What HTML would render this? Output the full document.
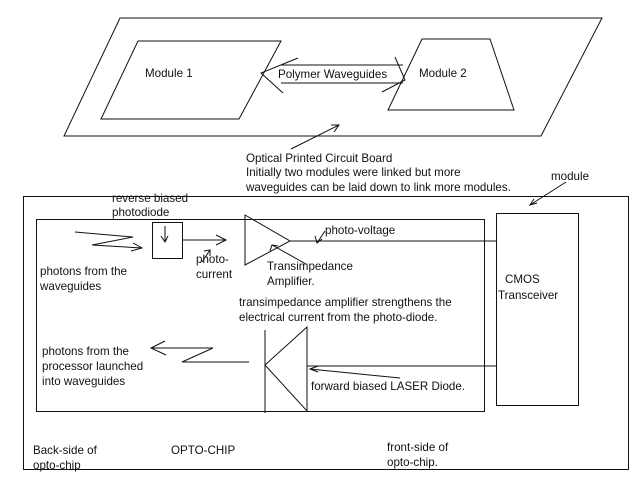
<!DOCTYPE html>
<html><head><meta charset="utf-8"><style>
html,body{margin:0;padding:0;background:#fff;}
svg{display:block;}
text{font-family:"Liberation Sans",sans-serif;font-size:11.6px;fill:#111;}
</style></head><body>
<svg width="641" height="484" viewBox="0 0 641 484" xmlns="http://www.w3.org/2000/svg">
<g fill="none" stroke="#111" stroke-width="1">
<!-- board -->
<polygon points="120,18 602,18 541,136 64,136"/>
<polygon points="138,41 281,41 239,119 101,119"/>
<polygon points="422,39 490,39 514,110 388,110"/>
<line x1="281" y1="65" x2="403" y2="65"/>
<line x1="281" y1="83" x2="403" y2="83"/>
<polyline points="298,58 261,73 283,93"/>
<polyline points="395,57 405,80 382,92"/>
<line x1="291" y1="149" x2="339" y2="125"/>
<polyline points="331,125 339,125 334,132"/>
<!-- module arrow -->
<line x1="566" y1="182" x2="530" y2="205"/>
<polyline points="537,203 530,205 534,199"/>
<!-- rects -->
<rect x="23.5" y="196.5" width="605" height="273"/>
<rect x="36.5" y="219.5" width="448" height="192"/>
<rect x="496.5" y="213.5" width="82" height="192"/>
<!-- input zigzag -->
<polyline points="75,232 133,237 92,245 142,248"/>
<polyline points="133,243 142,248 131,251"/>
<rect x="152.5" y="222.5" width="30" height="36"/>
<line x1="165" y1="226" x2="165" y2="242"/>
<polyline points="161,236 165,242 168,236"/>
<line x1="183" y1="240" x2="226" y2="240"/>
<polyline points="216,235 226,240 216,245"/>
<line x1="202" y1="262" x2="210" y2="250"/>
<polyline points="204,251 210,250 210,256"/>
<!-- amplifier -->
<polygon points="245,215 290,241 245,265"/>
<line x1="290" y1="241" x2="496" y2="241"/>
<line x1="325" y1="231" x2="317" y2="243"/>
<polyline points="315,236 317,243 322,239"/>
<line x1="306" y1="264" x2="272" y2="245"/>
<polyline points="270,251 272,245 278,246"/>
<!-- laser -->
<line x1="265" y1="330" x2="265" y2="413"/>
<polygon points="307,327 265,365 307,411"/>
<line x1="307" y1="366" x2="496" y2="366"/>
<line x1="400" y1="378" x2="310" y2="369"/>
<polyline points="318,366 310,369 318,372"/>
<!-- output zigzag -->
<polyline points="249,362 182,362 213,348 151,348"/>
<polyline points="165,341 151,348 166,355"/>
</g>
<text x="145" y="77">Module 1</text>
<text x="278" y="78">Polymer Waveguides</text>
<text x="419" y="77">Module 2</text>
<text x="246" y="162">Optical Printed Circuit Board</text>
<text x="246" y="176">Initially two modules were linked but more</text>
<text x="246" y="191">waveguides can be laid down to link more modules.</text>
<text x="551" y="180">module</text>
<text x="112" y="202">reverse biased</text>
<text x="112" y="216">photodiode</text>
<text x="40" y="275">photons from the</text>
<text x="40" y="290">waveguides</text>
<text x="196" y="263">photo-</text>
<text x="196" y="278">current</text>
<text x="325" y="234">photo-voltage</text>
<text x="267" y="270">Transimpedance</text>
<text x="267" y="285">Amplifier.</text>
<text x="239" y="306">transimpedance amplifier strengthens the</text>
<text x="239" y="321">electrical current from the photo-diode.</text>
<text x="505" y="283">CMOS</text>
<text x="498" y="299">Transceiver</text>
<text x="42" y="355">photons from the</text>
<text x="42" y="370">processor launched</text>
<text x="42" y="385">into waveguides</text>
<text x="311" y="390">forward biased LASER Diode.</text>
<text x="33" y="454">Back-side of</text>
<text x="33" y="469">opto-chip</text>
<text x="171" y="454">OPTO-CHIP</text>
<text x="387" y="451">front-side of</text>
<text x="387" y="466">opto-chip.</text>
</svg>
</body></html>
